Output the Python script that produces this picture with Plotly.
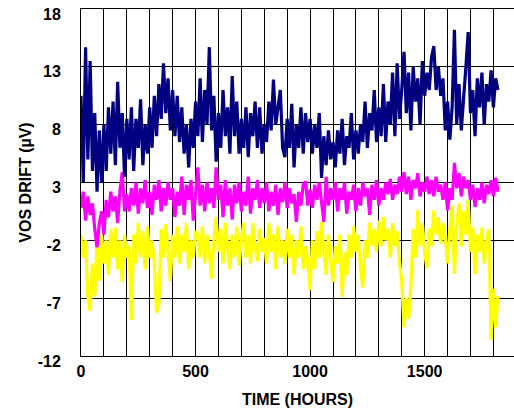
import plotly.graph_objects as go

hours = list(range(0, 1830, 10))

navy = [
    10.5, 3, 14.7, 5, 13.5, 4, 9, 2.2, 7.5, 3, 8,
    4, 9.5, 5.5, 10, 4.5, 11.7, 6, 9, 3.5, 8.5,
    5, 9.5, 4, 8.5, 6, 10.2, 4.5, 8, 5.5, 9.5,
    6, 10.5, 7, 11.5, 8.5, 13.3, 9, 12, 7.5, 11,
    7, 10.5, 6.5, 9.5, 5.5, 8, 4.3, 8.5, 6, 10,
    7, 12, 6.5, 11, 8, 14.7, 7.5, 10.5, 4.8, 9,
    6, 11, 7, 9.5, 5.5, 12.2, 7, 10, 5.5, 8.5,
    6, 9.5, 5.2, 9, 7, 10, 6, 9.5, 5.5, 8,
    6.5, 10, 7.5, 11.9, 8, 9.5, 11, 6, 5.2, 8.5,
    6, 9.8, 4.3, 8, 6, 9.5, 5.5, 9, 6.5, 8.5,
    5.5, 8, 6, 9, 3.4, 7, 4.5, 7.5, 5, 6.5,
    4.3, 7.5, 5.5, 8.5, 4.5, 7, 6, 9, 5, 7.5,
    5.5, 8, 6.5, 10, 6, 9, 7.5, 11, 6.5, 9.5,
    7, 11.5, 6.5, 10, 8, 12.5, 7, 13.3, 8.5, 11,
    14.3, 9, 12.5, 7.5, 13, 10, 12, 8, 13.5, 10.5,
    12.5, 11, 13.8, 14.8, 11, 13, 10.5, 12, 7.5, 10,
    6.7, 9.5, 16.2, 8, 11.5, 7.5, 10, 13, 16, 9,
    11, 7, 12, 9.5, 12.5, 8, 11.5, 10, 12.7, 9.5,
    12, 11,
]

magenta = [
    0.8, 2.2, -0.3, 1.8, 0.2, 1.2, -1, -2.6, -0.5, 0.5, -1.5,
    1.5, 0, 2.2, 0.5, 1.8, -0.5, 2.3, 3.9, 0.5, 2,
    0.5, 2.5, 1, 3, 0.3, 2.5, 1.2, 3.2, 0.8, 2.2,
    0.2, 2.8, 1.5, 3.2, 0.5, 2.5, 1, 3, 1.5, 2.5,
    0, 2.2, 1, 3.5, 0.2, 2.8, 1.5, 3.2, -0.3, 2,
    4.3, 1, 2.8, 0.5, 3, 1.2, 2.5, 0.8, 4.3, 1.5,
    2.8, 0, 3.2, 1, 2.5, -0.2, 2.8, 1.2, 3, 0.5,
    2.2, 1, 3.5, 0.3, 2.5, 1.5, 3.2, 0.8, 2.5, 1.2,
    3, 0.5, 2.2, 1, 2.8, 0.2, 2.5, 1.3, 3, 0.8,
    2.5, 1.2, 2, -0.4, 2.2, 1, 2.8, 3.1, 1, 2.4,
    0.8, 2.8, 1.5, 3, 1.2, -0.4, 3.5, 1, 2.5, 1.5,
    3, 0.5, 2.5, 1.5, 3, 0.3, 2.2, 1.5, 2.8, 0.5,
    2.5, 1, 3, 1.8, 2.5, 0.2, 2.8, 1.5, 3.2, 1,
    2.5, 1.5, 3, 2, 3.3, 1.5, 2.8, 2, 3.5, 2.2,
    3.9, 2, 3.5, 1.5, 3.2, 2.5, 3.8, 1.8, 3, 2.2,
    3.5, 2, 3.2, 1.8, 3.5, 2.2, 2.8, 1.5, 3, 0.6,
    2.5, 1.5, 4.7, 2.5, 3.8, 1.8, 3.5, 2.5, 3.2, 1.5,
    2.8, 0.9, 2.5, 1.5, 3, 1.2, 2.8, 2, 3.2, 1.8,
    3.4, 2.2,
]

yellow = [
    -1.5, -3.5, -2, -6.9, -8.1, -4, -6.9, -2.5, -5.5, -1.5, -4,
    -2, -5, -1, -3.5, -0.9, -4.5, -2, -5.6, -1.5, -3.5,
    -2.5, -8.9, -1.5, -4, -0.5, -3.5, -1.2, -4.5, -0.8, -3.5,
    -2, -4, -8.3, -7.5, -1, -3.5, -0.6, -3, -5.6, -1.5,
    -3.5, -0.8, -4, -1.5, -3, -0.5, -4.5, -2, -3.5, -1.2,
    -1.5, -3.5, -0.8, -4, -1.5, -3, -5.3, -2, 0, -3,
    -1, -4, -0.5, -2.5, -4.5, -1.5, -3.5, -0.8, -4.2, -2,
    -0.5, -3.5, -1.5, -4, -0.5, -2.5, -3.8, -1, -3, -1.8,
    -4, -0.5, -3, -1.5, -4.5, -0.8, -3.5, -2, -4, -1,
    -3.5, -1.5, -5, -2, -3.5, -0.8, -4.5, -2.5, -4, -6.3,
    -2, -4.5, -1.2, -3.5, -0.4, -3, -5, -1.5, -3.5, -5.6,
    -2.5, -4, -1.5, -6.9, -3, -5, -1.5, -3.5, -0.8, -3,
    -1.5, -4.4, -6.1, -2, -3.5, -0.5, -2.5, -1, -3, -0.3,
    -2.5, 0, -2, -1, -3.5, -0.5, -2.5, -1.2, -3.8, -5.5,
    -9.5, -7, -8.8, -6, -1, -3.5, 0.6, -2.5, -0.5, -3,
    -4.4, -1, -2.5, 0.6, -1.5, 0, -2.3, -0.5, -1.8, -4,
    -1, 1, -4.9, -0.5, 1.2, -2.5, 0.5, -1.5, 1.5, -3,
    -0.9, -4.9, -1.5, -3, -0.9, -4, -2, -1, -10.6, -6.2,
    -9.5, -6.8,
]

x_ticks = [0, 500, 1000, 1500]
y_ticks = [-12, -7, -2, 3, 8, 13, 18]

FONT = "Liberation Sans, Arial, sans-serif"

fig = go.Figure()
for ys, col in [(yellow, "#FFFF00"), (magenta, "#FF00FF"), (navy, "#000080")]:
    fig.add_trace(go.Scatter(x=hours, y=ys, mode="lines",
                             line=dict(color=col, width=3.2), showlegend=False))

fig.update_layout(
    width=514, height=416,
    margin=dict(l=81, r=0, t=9, b=60),
    paper_bgcolor="white", plot_bgcolor="white",
    font=dict(family=FONT, size=16, color="black", weight="bold"),
)
fig.update_xaxes(
    range=[0, 1890], tickvals=x_ticks, ticktext=[str(v) for v in x_ticks],
    showgrid=True, gridcolor="black", gridwidth=1,
    minor=dict(dtick=100, tick0=0, showgrid=True, gridcolor="black", gridwidth=1),
    showline=True, mirror=True, linecolor="black", linewidth=1, zeroline=False,
    ticks="", ticklabelstandoff=1,
    tickfont=dict(family=FONT, size=16, color="black", weight="bold"),
    title=dict(text="TIME (HOURS)", standoff=14,
               font=dict(family=FONT, size=16, color="black", weight="bold")),
)
fig.update_yaxes(
    range=[-12, 18], tickvals=y_ticks, ticktext=[str(v) for v in y_ticks],
    showgrid=True, gridcolor="black", gridwidth=1,
    showline=True, linecolor="black", linewidth=1, zeroline=False,
    ticks="", ticklabelstandoff=16, ticklabelshift=5, ticklabeloverflow="allow",
    tickfont=dict(family=FONT, size=16, color="black", weight="bold"),
    title=dict(text="VOS DRIFT (µV)", standoff=2,
               font=dict(family=FONT, size=16, color="black", weight="bold")),
)

fig.write_html("out.html")
